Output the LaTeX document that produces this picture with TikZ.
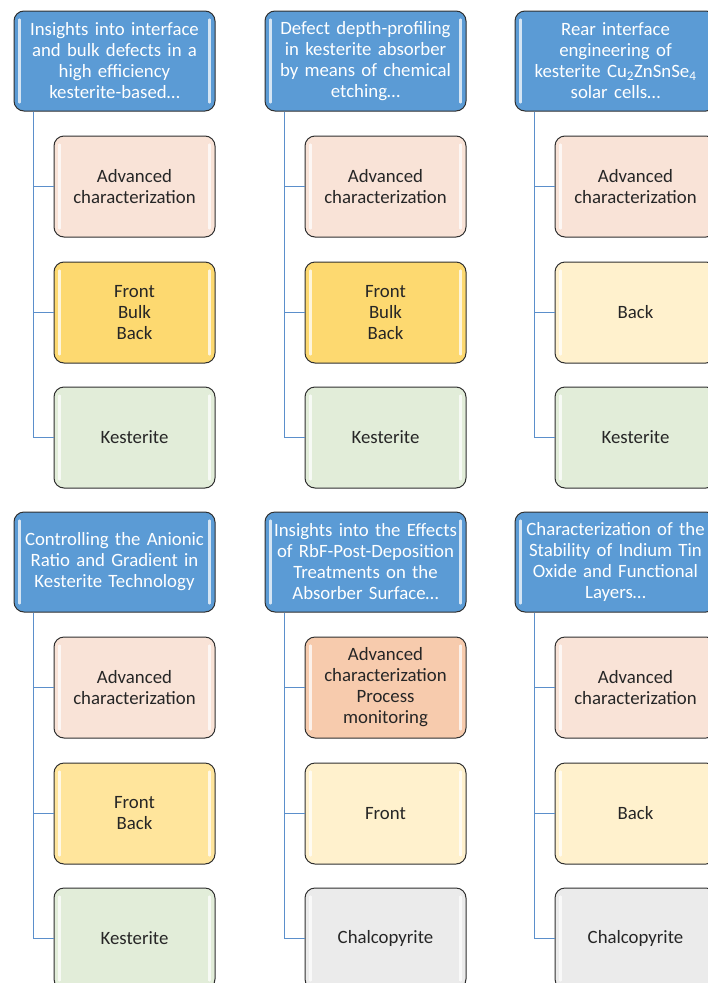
\documentclass[tikz,border=0pt]{standalone}
\usepackage{fontspec}
\setmainfont{Carlito}
\definecolor{hdrblue}{HTML}{5B9BD5}
\definecolor{connblue}{HTML}{5B8FCB}
\definecolor{edge}{HTML}{2F2F2F}
\definecolor{peach}{HTML}{F9E3D7}
\definecolor{peachdk}{HTML}{F7CBAD}
\definecolor{gold}{HTML}{FDD970}
\definecolor{goldlt}{HTML}{FFE59C}
\definecolor{cream}{HTML}{FFF1CD}
\definecolor{mint}{HTML}{E2EDD9}
\definecolor{greylt}{HTML}{EBEBEB}
\tikzset{
  boxbase/.style={draw=edge, line width=1pt, rounded corners=10pt, align=center,
    font=\fontsize{18.8}{21}\selectfont, inner sep=0pt},
  hdr/.style={boxbase, fill=hdrblue, text=white, minimum width=201pt, minimum height=100pt, text width=199pt},
  kid/.style={boxbase, fill=#1, text=black!85, minimum width=161pt, minimum height=101pt, text width=159pt},
  conn/.style={draw=connblue, line width=1.4pt},
  gloss/.style={draw=white, line width=2.2pt, line cap=round, opacity=0.75}
}
\newcommand\glossy[1]{%
  \draw[gloss] ([xshift=6pt,yshift=-9pt]#1.north west) -- ([xshift=6pt,yshift=9pt]#1.south west);
  \draw[gloss] ([xshift=-6pt,yshift=-9pt]#1.north east) -- ([xshift=-6pt,yshift=9pt]#1.south east);}
\newcommand\tie[2]{\draw[conn] ([xshift=20pt]#1.south west) |- (#2.west);}
\begin{document}
\begin{tikzpicture}[x=1pt,y=-1pt]
\useasboundingbox (0,0) rectangle (708,983);
\clip (0,0) rectangle (708,983);
% ---------- row 1 ----------
\node[hdr] (h1) at (114.5,61) {Insights into interface\\and bulk defects in a\\high efficiency\\kesterite-based…};
\node[kid=peach] (a1) at (134.5,186.5) {Advanced\\characterization};
\node[kid=gold] (b1) at (134.5,312.5) {Front\\Bulk\\Back};
\node[kid=mint] (c1) at (134.5,437.5) {Kesterite};

\node[hdr] (h2) at (365.5,61) {Defect depth-profiling\\in kesterite absorber\\by means of chemical\\etching…};
\node[kid=peach] (a2) at (385.5,186.5) {Advanced\\characterization};
\node[kid=gold] (b2) at (385.5,312.5) {Front\\Bulk\\Back};
\node[kid=mint] (c2) at (385.5,437.5) {Kesterite};

\node[hdr] (h3) at (615.5,61) {Rear interface\\engineering of\\kesterite Cu\textsubscript{2}ZnSnSe\textsubscript{4}\\solar cells…};
\node[kid=peach] (a3) at (635.5,186.5) {Advanced\\characterization};
\node[kid=cream] (b3) at (635.5,312.5) {Back};
\node[kid=mint] (c3) at (635.5,437.5) {Kesterite};
% ---------- row 2 ----------
\node[hdr] (h4) at (114.5,562) {Controlling the Anionic\\Ratio and Gradient in\\Kesterite Technology};
\node[kid=peach] (a4) at (134.5,687.5) {Advanced\\characterization};
\node[kid=goldlt] (b4) at (134.5,813.5) {Front\\Back};
\node[kid=mint] (c4) at (134.5,938.5) {Kesterite};

\node[hdr] (h5) at (365.5,562) {Insights into the Effects\\of RbF-Post-Deposition\\Treatments on the\\Absorber Surface…};
\node[kid=peachdk] (a5) at (385.5,687.5) {Advanced\\characterization\\Process\\monitoring};
\node[kid=cream] (b5) at (385.5,813.5) {Front};
\node[kid=greylt] (c5) at (385.5,938.5) {Chalcopyrite};

\node[hdr] (h6) at (615.5,562) {Characterization of the\\Stability of Indium Tin\\Oxide and Functional\\Layers…};
\node[kid=peach] (a6) at (635.5,687.5) {Advanced\\characterization};
\node[kid=cream] (b6) at (635.5,813.5) {Back};
\node[kid=greylt] (c6) at (635.5,938.5) {Chalcopyrite};

\foreach \i in {1,...,6}{
  \glossy{h\i}\glossy{a\i}\glossy{b\i}\glossy{c\i}
  \tie{h\i}{a\i}\tie{h\i}{b\i}\tie{h\i}{c\i}
}
\end{tikzpicture}
\end{document}
